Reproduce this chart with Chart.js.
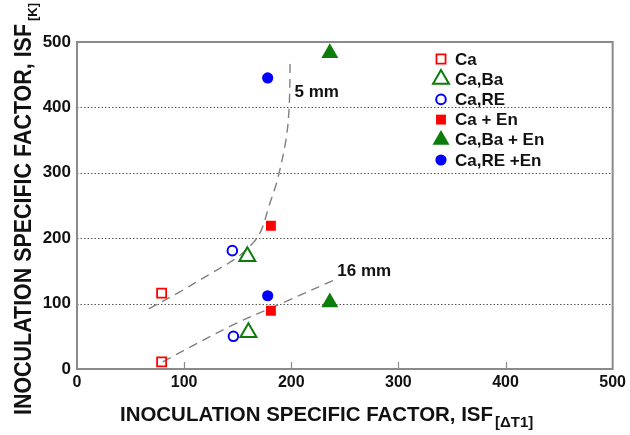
<!DOCTYPE html>
<html>
<head>
<meta charset="utf-8">
<script src="https://cdn.jsdelivr.net/npm/chart.js@4.4.1/dist/chart.umd.min.js"></script>
<style>
  html, body { margin: 0; padding: 0; background: #fff; }
  #wrap { width: 630px; height: 435px; position: relative; }
</style>
</head>
<body>
<div id="wrap"><canvas id="isfChart"></canvas></div>
<script>
// ── data ────────────────────────────────────────────────────────────────────
const seriesNames = ['Ca', 'Ca,Ba', 'Ca,RE', 'Ca + En', 'Ca,Ba + En', 'Ca,RE +En'];

// ISF[ΔT1] (x) / ISF[K] (y), upper point = 5 mm, lower point = 16 mm
const caX     = [79, 79];    const caY     = [116, 11];
const caBaX   = [159, 160];  const caBaY   = [172, 56];
const caReX   = [145, 146];  const caReY   = [181, 50];
const caEnX   = [181, 181];  const caEnY   = [219, 89];
const caBaEnX = [236, 236];  const caBaEnY = [483, 102];
const caReEnX = [178, 178];  const caReEnY = [445, 112];

// dashed trend curves
const curve5X  = [67, 96, 126, 149, 165, 172, 179, 187, 195, 198, 199];
const curve5Y  = [92, 118, 147, 170, 194, 212, 248, 289, 350, 400, 476];
const curve16X = [80, 145, 192, 244];
const curve16Y = [11, 67, 101, 139];

const curveLabels = ['5 mm', '16 mm'];
const curveLabelX = [203, 243];
const curveLabelY = [423, 150];

const xTicks = [0, 100, 200, 300, 400, 500];
const yTicks = [0, 100, 200, 300, 400, 500];

// ── styles ──────────────────────────────────────────────────────────────────
const FONT = "'Liberation Sans', Arial, sans-serif";
const RED = '#ff0000', GREEN = '#0b7d0b', BLUE = '#0000ff';

const SERIES_STYLE = [
  { shape: 'rect',     color: RED,   filled: false, radius: 6.4, bw: 1.8 },
  { shape: 'triangle', color: GREEN, filled: false, radius: 9.2, bw: 2 },
  { shape: 'circle',   color: BLUE,  filled: false, radius: 4.8, bw: 2 },
  { shape: 'rect',     color: RED,   filled: true,  radius: 7,   bw: 0 },
  { shape: 'triangle', color: GREEN, filled: true,  radius: 9.8, bw: 0 },
  { shape: 'circle',   color: BLUE,  filled: true,  radius: 5.6, bw: 0 },
];

const toPoints = (xs, ys) => xs.map((x, i) => ({ x, y: ys[i] }));
const seriesX = [caX, caBaX, caReX, caEnX, caBaEnX, caReEnX];
const seriesY = [caY, caBaY, caReY, caEnY, caBaEnY, caReEnY];

// ── 범례용 마커 (Chart.js 포인트와 같은 기하) ───────────────────────────────
function drawMarker(ctx, st, x, y) {
  const r = st.radius;
  ctx.save();
  ctx.beginPath();
  if (st.shape === 'rect') {
    const s = Math.SQRT1_2 * r;
    ctx.rect(x - s, y - s, 2 * s, 2 * s);
  } else if (st.shape === 'triangle') {
    let a = 0;
    ctx.moveTo(x + Math.sin(a) * r, y - Math.cos(a) * r);
    a += Math.PI * 2 / 3;
    ctx.lineTo(x + Math.sin(a) * r, y - Math.cos(a) * r);
    a += Math.PI * 2 / 3;
    ctx.lineTo(x + Math.sin(a) * r, y - Math.cos(a) * r);
    ctx.closePath();
  } else {
    ctx.arc(x, y, r, 0, Math.PI * 2);
  }
  if (st.filled) { ctx.fillStyle = st.color; ctx.fill(); }
  if (st.bw > 0) { ctx.lineWidth = st.bw; ctx.strokeStyle = st.color; ctx.stroke(); }
  ctx.restore();
}

// 가로로 눌린 글자 (원본 축 제목이 좁게 찍혀 있음)
function drawFitted(ctx, text, font, x, y, width) {
  ctx.font = font;
  const w = ctx.measureText(text).width;
  ctx.save();
  ctx.translate(x, y);
  ctx.scale(width / w, 1);
  ctx.fillText(text, 0, 0);
  ctx.restore();
}

const framePlugin = {
  id: 'framePlugin',
  beforeDatasetsDraw(chart) {
    const { ctx, chartArea: a, scales: { x, y } } = chart;
    ctx.save();
    // dotted horizontal grid (inner ticks only)
    ctx.strokeStyle = '#555';
    ctx.lineWidth = 1;
    ctx.setLineDash([1.5, 2]);
    yTicks.slice(1, -1).forEach(v => {
      const py = Math.round(y.getPixelForValue(v)) + 0.5;
      ctx.beginPath(); ctx.moveTo(a.left, py); ctx.lineTo(a.right, py); ctx.stroke();
    });
    ctx.setLineDash([]);
    // box
    ctx.strokeStyle = '#8a8a8a';
    ctx.lineWidth = 2;
    ctx.strokeRect(a.left, a.top, a.right - a.left, a.bottom - a.top);
    // inward ticks on the x axis
    ctx.lineWidth = 1.2;
    xTicks.slice(1, -1).forEach(v => {
      const px = Math.round(x.getPixelForValue(v)) + 0.5;
      ctx.beginPath(); ctx.moveTo(px, a.bottom); ctx.lineTo(px, a.bottom - 7); ctx.stroke();
    });
    ctx.restore();
  },
  afterDatasetsDraw(chart) {
    const { ctx, scales: { x, y } } = chart;
    ctx.save();
    ctx.fillStyle = '#111';
    ctx.textBaseline = 'middle';
    ctx.textAlign = 'left';

    // curve labels
    ctx.font = `bold 17px ${FONT}`;
    curveLabels.forEach((t, i) => {
      ctx.fillText(t, x.getPixelForValue(curveLabelX[i]), y.getPixelForValue(curveLabelY[i]));
    });

    // legend inside the plot
    seriesNames.forEach((name, i) => {
      const ly = 59 + i * 20.2;
      drawMarker(ctx, SERIES_STYLE[i], 441, ly);
      ctx.fillStyle = '#111';
      ctx.font = `bold 17px ${FONT}`;
      ctx.fillText(name, 455, ly + 1);
    });

    // axis titles with subscripts
    ctx.textBaseline = 'alphabetic';
    drawFitted(ctx, 'INOCULATION SPECIFIC FACTOR, ISF', `bold 21px ${FONT}`, 120, 421, 373);
    ctx.font = `bold 15px ${FONT}`;
    ctx.fillText('[ΔT1]', 495, 427);

    ctx.save();
    ctx.translate(31, 415);
    ctx.rotate(-Math.PI / 2);
    drawFitted(ctx, 'INOCULATION SPECIFIC FACTOR, ISF', `bold 23px ${FONT}`, 0, 0, 391);
    ctx.font = `bold 13px ${FONT}`;
    ctx.fillText('[K]', 394, 6);
    ctx.restore();

    ctx.restore();
  },
};

const markerSets = seriesNames.map((name, i) => {
  const st = SERIES_STYLE[i];
  return {
    label: name,
    data: toPoints(seriesX[i], seriesY[i]),
    pointStyle: st.shape,
    pointRadius: st.radius,
    pointBorderWidth: st.bw,
    pointBorderColor: st.color,
    pointBackgroundColor: st.filled ? st.color : 'rgba(255,255,255,0)',
  };
});

const curveSet = (label, xs, ys) => ({
  label,
  data: toPoints(xs, ys),
  showLine: true,
  pointRadius: 0,
  borderColor: '#808080',
  borderWidth: 1.4,
  borderDash: [9, 6],
  tension: 0.35,
  fill: false,
});

const tickFont = (size) => ({ family: FONT, size, weight: 'bold' });

new Chart(document.getElementById('isfChart'), {
  type: 'scatter',
  data: {
    datasets: [
      ...markerSets,
      curveSet('5 mm', curve5X, curve5Y),
      curveSet('16 mm', curve16X, curve16Y),
    ],
  },
  options: {
    responsive: true,
    maintainAspectRatio: false,
    animation: false,
    layout: { padding: { top: 42, right: 15, left: 0, bottom: 0 } },
    plugins: { legend: { display: false }, tooltip: { enabled: false } },
    scales: {
      x: {
        type: 'linear',
        min: 0, max: 500,
        afterBuildTicks: (s) => { s.ticks = xTicks.map(v => ({ value: v })); },
        grid: { display: false, drawTicks: false },
        border: { display: false },
        ticks: { font: tickFont(16), color: '#111', padding: 4, maxRotation: 0 },
        afterFit: (s) => { s.height = 66; },
      },
      y: {
        type: 'linear',
        min: 0, max: 500,
        afterBuildTicks: (s) => { s.ticks = yTicks.map(v => ({ value: v })); },
        grid: { display: false, drawTicks: false },
        border: { display: false },
        ticks: { font: tickFont(17), color: '#111', padding: 6 },
        afterFit: (s) => { s.width = 77; },
      },
    },
  },
  plugins: [framePlugin],
});
</script>
</body>
</html>
